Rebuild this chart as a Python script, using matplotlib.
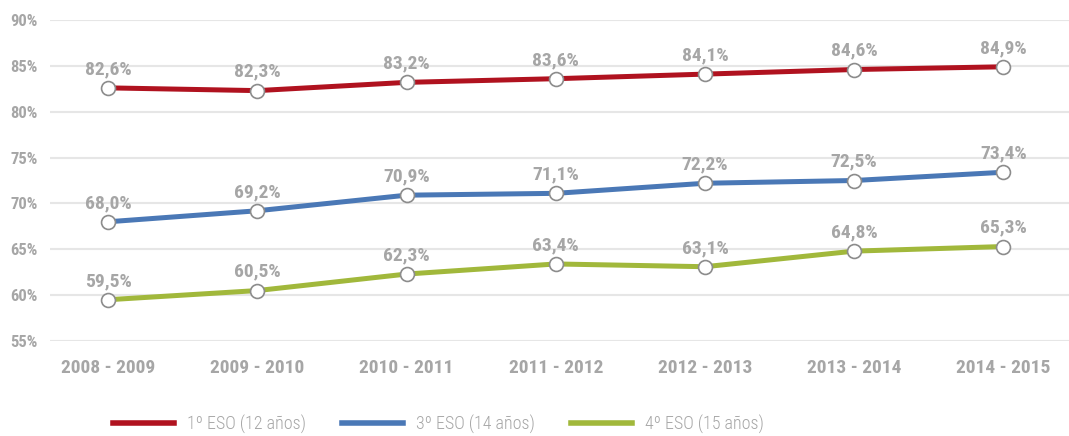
import matplotlib.pyplot as plt
from matplotlib.lines import Line2D

cursos = ['2008 - 2009', '2009 - 2010', '2010 - 2011', '2011 - 2012',
          '2012 - 2013', '2013 - 2014', '2014 - 2015']
eso1 = [82.6, 82.3, 83.2, 83.6, 84.1, 84.6, 84.9]
eso3 = [68.0, 69.2, 70.9, 71.1, 72.2, 72.5, 73.4]
eso4 = [59.5, 60.5, 62.3, 63.4, 63.1, 64.8, 65.3]
nombres = ['1º ESO (12 años)', '3º ESO (14 años)', '4º ESO (15 años)']
colores = ['#b0121f', '#4a78b6', '#a1b83b']

gris = '#a6a6a6'
plt.rcParams['font.family'] = ['Roboto Condensed', 'Archivo Narrow', 'DejaVu Sans']

fig = plt.figure(figsize=(10.69, 4.36), dpi=100)
ax = fig.add_axes([50 / 1069, 1 - 341 / 436, 1 - 50 / 1069, 321 / 436])

x = list(range(len(cursos)))
for serie, color in zip([eso1, eso3, eso4], colores):
    ax.plot(x, serie, color=color, lw=3.6, zorder=3,
            marker='o', ms=10, mfc='white', mec='#8c8c8c', mew=1.2)
    for xi, v in zip(x, serie):
        ax.annotate(f'{v:.1f}%'.replace('.', ','), (xi, v), xytext=(0, 7),
                    textcoords='offset points', ha='center', va='bottom',
                    fontsize=14, fontweight='bold', color=gris)

ax.set_xlim(-0.39, 6.44)
ax.set_ylim(55, 90)
ax.set_yticks(range(55, 91, 5))
ax.set_yticklabels([f'{t}%' for t in range(55, 91, 5)])
ax.set_xticks(x)
ax.set_xticklabels(cursos)
ax.grid(axis='y', color='#e6e6e6', lw=1.5)
ax.set_axisbelow(True)
for s in ax.spines.values():
    s.set_visible(False)
ax.tick_params(length=0, colors=gris, labelsize=12)
ax.tick_params(axis='x', pad=13, labelsize=14)
for lab in ax.get_xticklabels() + ax.get_yticklabels():
    lab.set_fontweight('bold')
ax.yaxis.set_tick_params(pad=9)

# leyenda abajo, sin marco
handles = [Line2D([], [], color=c, lw=4) for c in colores]
leg = fig.legend(handles, nombres, loc='lower center', ncol=3, frameon=False,
                 bbox_to_anchor=(0.41, -0.032), fontsize=13, labelcolor=gris,
                 handlelength=3.4, columnspacing=2.0, handletextpad=0.7)
for t in leg.get_texts():
    t.set_fontweight('light')

fig.savefig('out.png', dpi=100)
